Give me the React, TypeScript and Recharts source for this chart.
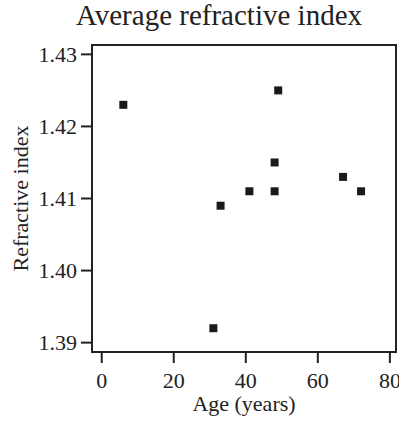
import { ScatterChart, Scatter, XAxis, YAxis, ZAxis, ReferenceArea } from "recharts";

const ages = [6, 31, 33, 41, 48, 48, 49, 67, 72];
const refractiveIndex = [1.423, 1.392, 1.409, 1.411, 1.415, 1.411, 1.425, 1.413, 1.411];
const ageTicks = [0, 20, 40, 60, 80];
const indexTicks = [1.39, 1.4, 1.41, 1.42, 1.43];

const points = ages.map((age, i) => ({ age, ri: refractiveIndex[i] }));

// axes run a little past the first/last tick
const ageDomain: [number, number] = [-2.7, 81.7];
const indexDomain: [number, number] = [1.3887, 1.4313];

const FONT = "'Liberation Serif', 'Times New Roman', serif";
const INK = "#222";

export default function App() {
  return (
    <div style={{ position: "absolute", left: 0, top: 0, width: 399, height: 422, background: "#fff", fontFamily: FONT }}>
      <div
        style={{
          position: "absolute",
          left: 0,
          width: 438,
          top: 1,
          textAlign: "center",
          fontSize: 29,
          lineHeight: "29px",
          color: INK,
          whiteSpace: "nowrap",
        }}
      >
        Average refractive index
      </div>
      <ScatterChart width={399} height={422} margin={{ top: 45, right: 3, bottom: 0, left: 0 }}>
        <XAxis
          type="number"
          dataKey="age"
          domain={ageDomain}
          allowDataOverflow
          ticks={ageTicks}
          interval={0}
          height={70}
          tickSize={11}
          tickMargin={9}
          axisLine={{ stroke: INK, strokeWidth: 2 }}
          tickLine={{ stroke: INK, strokeWidth: 2 }}
          tick={{ fill: INK, fontSize: 22, fontFamily: FONT }}
          label={{ value: "Age (years)", position: "insideBottom", offset: 11, fill: INK, fontSize: 22, fontFamily: FONT }}
        />
        <YAxis
          type="number"
          dataKey="ri"
          domain={indexDomain}
          allowDataOverflow
          ticks={indexTicks}
          interval={0}
          width={92}
          tickSize={11}
          tickMargin={4}
          tickFormatter={(v: number) => v.toFixed(2)}
          axisLine={{ stroke: INK, strokeWidth: 2 }}
          tickLine={{ stroke: INK, strokeWidth: 2 }}
          tick={{ fill: INK, fontSize: 22, fontFamily: FONT }}
          label={{
            value: "Refractive index",
            angle: -90,
            position: "insideLeft",
            offset: 20,
            fill: INK,
            fontSize: 22,
            fontFamily: FONT,
            style: { textAnchor: "middle" },
          }}
        />
        <ZAxis range={[110, 110]} />
        {/* frame around the plot area */}
        <ReferenceArea
          x1={ageDomain[0]}
          x2={ageDomain[1]}
          y1={indexDomain[0]}
          y2={indexDomain[1]}
          fill="none"
          fillOpacity={0}
          stroke={INK}
          strokeWidth={2}
        />
        <Scatter data={points} shape="square" fill="#1a1a1a" isAnimationActive={false} />
      </ScatterChart>
    </div>
  );
}
